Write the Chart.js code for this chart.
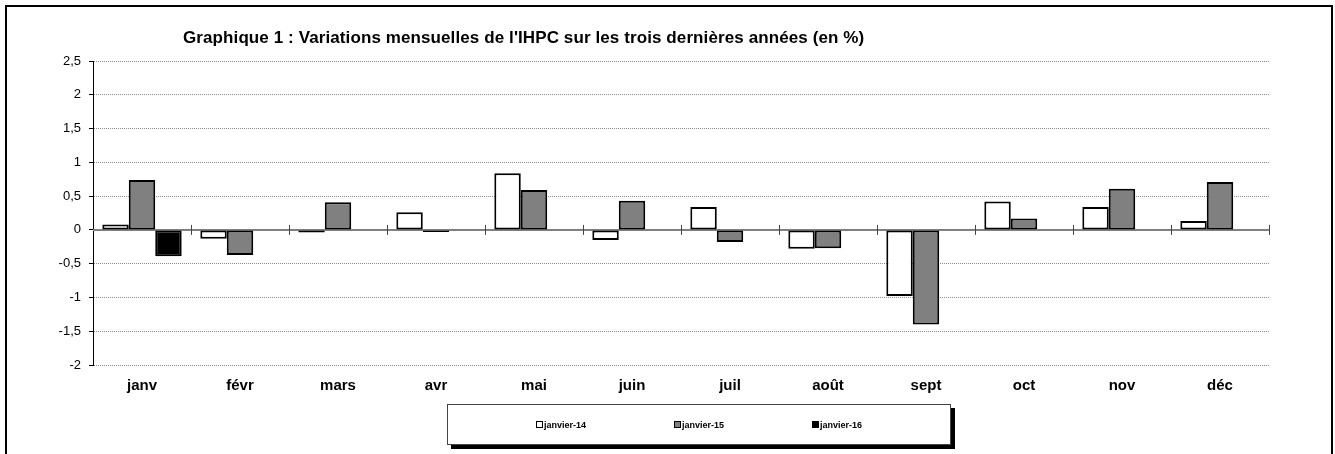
<!DOCTYPE html>
<html lang="fr">
<head>
    <meta charset="UTF-8">
    <title>Graphique 1</title>
    <script src="https://cdn.jsdelivr.net/npm/chart.js"></script>
    <style>
        body { margin: 0; background: white; font-family: Arial, "Liberation Sans", sans-serif; overflow: hidden; }
        .frame { position: absolute; left: 5px; top: 5px; width: 1324px; height: 470px; border: 2px solid black; }
        .title { position: absolute; left: 183px; top: 28px; font-size: 17px; font-weight: bold; letter-spacing: 0.1px; color: black; white-space: nowrap; }
        #chart { position: absolute; left: 0; top: 0; }
        .legend { position: absolute; left: 447px; top: 404px; width: 504px; height: 41px; border: 1px solid #444; background: white;
                  box-shadow: 4px 4px 0 black; display: flex; align-items: center; padding-left: 88px; box-sizing: border-box; }
        .legend-item { width: 140px; display: flex; align-items: center; font-size: 9px; font-weight: bold; }
        .legend-box { width: 5px; height: 5px; border: 1.5px solid black; margin-right: 1px; }
    </style>
</head>
<body>
    <div class="frame"></div>
    <canvas id="chart" width="1335" height="454"></canvas>
    <div class="title">Graphique 1 : Variations mensuelles de l'IHPC sur les trois dernières années (en %)</div>
    <div class="legend" id="legend"></div>

    <script>
        const months = ['janv', 'févr', 'mars', 'avr', 'mai', 'juin', 'juil', 'août', 'sept', 'oct', 'nov', 'déc'];
        const seriesNames = ['janvier-14', 'janvier-15', 'janvier-16'];
        const jan14 = [0.08, -0.13, -0.04, 0.26, 0.84, -0.15, 0.34, -0.28, -0.98, 0.42, 0.34, 0.13];
        const jan15 = [0.74, -0.37, 0.41, -0.03, 0.59, 0.43, -0.18, -0.27, -1.40, 0.17, 0.61, 0.71];
        const jan16 = [-0.39, null, null, null, null, null, null, null, null, null, null, null];
        const seriesColors = ['#ffffff', '#808080', '#000000'];
        const yMin = -2, yMax = 2.5, yStep = 0.5;

        const datasets = [jan14, jan15, jan16].map((values, i) => ({
            label: seriesNames[i],
            data: values,
            backgroundColor: seriesColors[i],
            borderColor: '#000',
            borderWidth: 2,
            borderSkipped: false
        }));

        // zero line + small ticks on it between months
        const zeroAxis = {
            id: 'zeroAxis',
            beforeDatasetsDraw(chart) {
                const ctx = chart.ctx;
                const area = chart.chartArea;
                const y = chart.scales.y.getPixelForValue(0);
                ctx.save();
                ctx.strokeStyle = '#808080';
                ctx.lineWidth = 2;
                ctx.beginPath();
                ctx.moveTo(area.left, y);
                ctx.lineTo(area.right, y);
                ctx.stroke();
                ctx.strokeStyle = '#444';
                ctx.lineWidth = 1;
                const step = (area.right - area.left) / months.length;
                for (let i = 1; i <= months.length; i++) {
                    const x = Math.round(area.left + i * step) + 0.5;
                    ctx.beginPath();
                    ctx.moveTo(x, y - 5);
                    ctx.lineTo(x, y + 5);
                    ctx.stroke();
                }
                ctx.restore();
            }
        };

        const chart = new Chart(document.getElementById('chart'), {
            type: 'bar',
            data: { labels: months, datasets: datasets },
            options: {
                responsive: false,
                animation: false,
                layout: { padding: { left: 0, right: 66, top: 61, bottom: 0 } },
                datasets: { bar: { categoryPercentage: 0.81, barPercentage: 1 } },
                plugins: { legend: { display: false }, tooltip: { enabled: false } },
                scales: {
                    x: {
                        grid: { display: false },
                        border: { display: false },
                        ticks: { color: '#000', font: { family: 'Arial', size: 15, weight: 'bold' }, padding: 4, maxRotation: 0 },
                        afterFit(scale) { scale.height = 89; }
                    },
                    y: {
                        min: yMin,
                        max: yMax,
                        grid: { color: '#8c8c8c', lineWidth: 1, tickColor: '#000', tickLength: 4, drawTicks: true },
                        border: { display: true, color: '#000', width: 1, dash: [1, 1] },
                        ticks: {
                            stepSize: yStep,
                            color: '#000',
                            padding: 8,
                            font: { family: 'Arial', size: 13 },
                            callback: v => String(v).replace('.', ',')
                        },
                        afterFit(scale) { scale.width = 93; }
                    }
                }
            },
            plugins: [zeroAxis]
        });

        const legend = document.getElementById('legend');
        chart.data.datasets.forEach(ds => {
            const item = document.createElement('div');
            item.className = 'legend-item';
            const box = document.createElement('span');
            box.className = 'legend-box';
            box.style.background = ds.backgroundColor;
            item.appendChild(box);
            item.appendChild(document.createTextNode(ds.label));
            legend.appendChild(item);
        });
    </script>
</body>
</html>
